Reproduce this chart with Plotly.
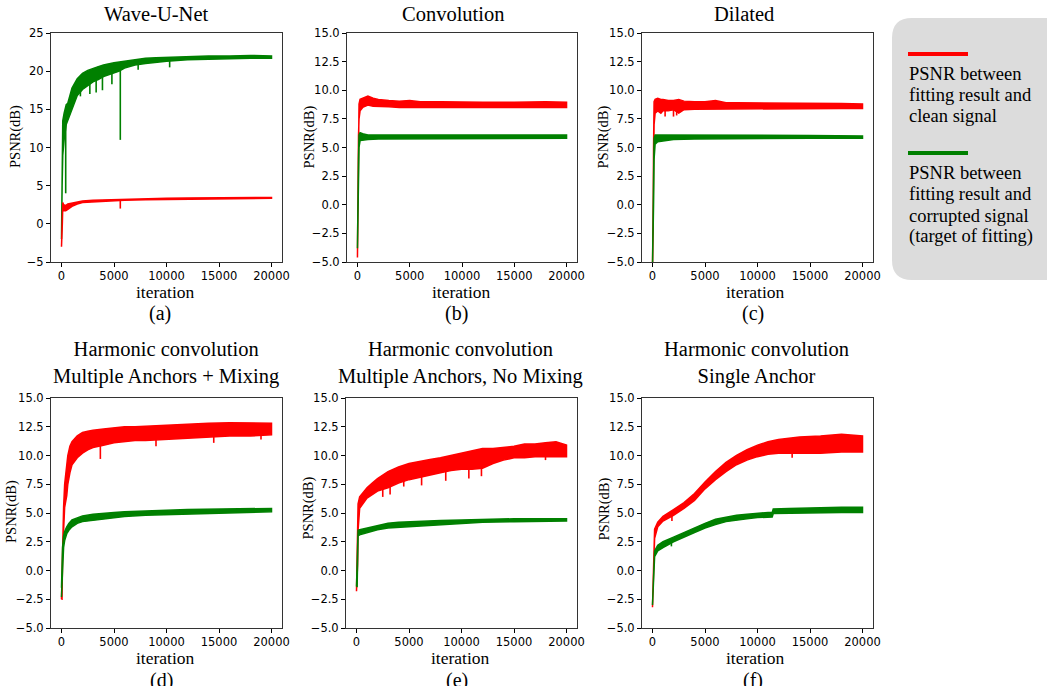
import plotly.graph_objects as go

W, H = 1047, 686
RED = "#ff0000"
GREEN = "#008000"

# ---------------- data ----------------
X_TICKS = [0, 5000, 10000, 15000, 20000]
Y_TICKS_A = [-5, 0, 5, 10, 15, 20, 25]
Y_TICKS = [-5.0, -2.5, 0.0, 2.5, 5.0, 7.5, 10.0, 12.5, 15.0]

PANEL_TITLES = ["Wave-U-Net", "Convolution", "Dilated",
                "Harmonic convolution<br>Multiple Anchors + Mixing",
                "Harmonic convolution<br>Multiple Anchors, No Mixing",
                "Harmonic convolution<br>Single Anchor"]
PANEL_LETTERS = ["(a)", "(b)", "(c)", "(d)", "(e)", "(f)"]
LEGEND_RED = ["PSNR between", "fitting result and", "clean signal"]
LEGEND_GREEN = ["PSNR between", "fitting result and", "corrupted signal", "(target of fitting)"]

# (a) Wave-U-Net
A_G_X = [0, 60, 120, 250, 450, 600, 800, 1000, 1500, 2000, 2500, 3000, 3500, 4000, 4500, 5000, 5500, 6000, 7000, 8000, 9000, 10000, 12000, 14000, 16000, 18000, 20000]
A_G_HI = [-2, 10.5, 13.5, 14.5, 15.6, 15.8, 17.0, 17.8, 19.0, 19.7, 20.1, 20.4, 20.6, 20.8, 21.0, 21.1, 21.2, 21.3, 21.5, 21.7, 21.75, 21.8, 21.9, 22.0, 22.0, 22.05, 22.0]
A_G_LO = [-2, 5.0, 9.0, 11.0, 13.0, 13.8, 14.3, 15.0, 16.8, 17.6, 18.1, 18.6, 18.9, 19.3, 19.6, 19.8, 20.0, 20.4, 20.8, 21.0, 21.2, 21.3, 21.5, 21.6, 21.65, 21.7, 21.7]
A_G_DIP_X = [400, 1800, 2700, 3300, 3900, 4800, 5600, 7300, 10300]
A_G_DIP_TOP = [13, 18.5, 19, 19.5, 19.8, 20, 21, 21, 21.5]
A_G_DIP_BOT = [4, 16.7, 17, 17.2, 17.5, 18.3, 11, 20.2, 20.5]
A_R_X = [0, 40, 80, 120, 200, 400, 600, 1000, 1500, 2000, 3000, 4000, 5000, 6000, 8000, 10000, 12000, 15000, 20000]
A_R_HI = [-3, -1, 1.5, 2.8, 2.5, 2.4, 2.6, 2.7, 2.9, 3.0, 3.1, 3.15, 3.2, 3.25, 3.3, 3.35, 3.4, 3.45, 3.45]
A_R_LO = [-3, -2.5, 0, 2.2, 1.7, 1.7, 1.9, 2.3, 2.6, 2.8, 2.9, 2.95, 3.0, 3.1, 3.15, 3.2, 3.25, 3.3, 3.35]
A_R_DIP_X = [5600]
A_R_DIP_TOP = [3.1]
A_R_DIP_BOT = [2.0]

# (b) Convolution
B_R_X = [0, 30, 60, 100, 150, 250, 500, 1000, 1500, 2000, 3000, 4000, 5000, 6000, 8000, 10000, 12000, 15000, 18000, 20000]
B_R_HI = [-4.6, -2, 3.5, 8.0, 8.8, 9.2, 9.3, 9.5, 9.3, 9.2, 9.1, 9.05, 9.1, 9.0, 9.0, 8.95, 8.95, 8.95, 9.0, 8.95]
B_R_LO = [-4.6, -4, -2, 6.0, 7.5, 8.2, 8.5, 8.7, 8.6, 8.6, 8.55, 8.5, 8.45, 8.5, 8.5, 8.45, 8.45, 8.5, 8.5, 8.5]
B_G_X = [0, 30, 60, 100, 150, 250, 500, 1000, 2000, 4000, 6000, 10000, 15000, 20000]
B_G_HI = [-3.8, 1.0, 1.0, 4.0, 6.1, 6.3, 6.2, 6.1, 6.1, 6.1, 6.1, 6.1, 6.1, 6.1]
B_G_LO = [-3.8, -3.8, 0.3, 0.3, 5.0, 5.6, 5.6, 5.7, 5.75, 5.8, 5.8, 5.8, 5.8, 5.8]

# (c) Dilated
C_R_X = [0, 60, 100, 150, 250, 500, 800, 1000, 1500, 2000, 2500, 3000, 4000, 5000, 6000, 7000, 8000, 10000, 12000, 15000, 18000, 20000]
C_R_HI = [-5.5, -2, 5.0, 9.0, 9.2, 9.3, 9.2, 9.2, 9.1, 9.1, 9.2, 9.05, 9.0, 9.0, 9.1, 8.9, 8.9, 8.9, 8.9, 8.85, 8.85, 8.8]
C_R_LO = [-5.5, -5.5, 3.0, 7.0, 8.0, 8.2, 8.0, 8.2, 8.2, 8.3, 8.0, 8.3, 8.35, 8.4, 8.4, 8.4, 8.35, 8.35, 8.4, 8.4, 8.4, 8.4]
C_R_DIP_X = [1200, 2000, 2300]
C_R_DIP_TOP = [8.3, 8.3, 8.3]
C_R_DIP_BOT = [7.7, 7.7, 7.8]
C_G_X = [0, 30, 60, 100, 150, 250, 500, 1000, 2000, 4000, 6000, 10000, 15000, 20000]
C_G_HI = [-5.5, -1.5, -1.5, 3.5, 5.8, 6.1, 6.1, 6.1, 6.05, 6.05, 6.1, 6.05, 6.05, 6.0]
C_G_LO = [-5.5, -5.5, -5.0, 0.0, 4.0, 5.3, 5.5, 5.6, 5.7, 5.75, 5.75, 5.8, 5.8, 5.8]

# (d) Multiple Anchors + Mixing
D_R_X = [0, 50, 100, 200, 300, 400, 500, 600, 800, 1000, 1500, 2000, 2500, 3000, 4000, 5000, 6000, 7000, 8000, 9000, 10000, 12000, 14000, 16000, 18000, 20000]
D_R_HI = [-2.5, 0, 3.0, 5.5, 7.5, 8.5, 9.5, 10.0, 10.8, 11.2, 11.7, 12.0, 12.1, 12.2, 12.3, 12.4, 12.5, 12.5, 12.55, 12.6, 12.65, 12.7, 12.8, 12.85, 12.85, 12.8]
D_R_LO = [-2.5, -2.5, 1.0, 3.5, 5.5, 6.0, 6.5, 7.5, 8.5, 9.2, 9.8, 10.2, 10.5, 10.7, 10.9, 11.1, 11.2, 11.3, 11.3, 11.3, 11.4, 11.5, 11.6, 11.7, 11.7, 11.8]
D_R_DIP_X = [1300, 3700, 9000, 14500, 19000]
D_R_DIP_TOP = [11.5, 11.5, 11.5, 12, 12]
D_R_DIP_BOT = [9.7, 9.7, 10.8, 11.1, 11.4]
D_G_X = [0, 50, 100, 200, 300, 500, 700, 1000, 1500, 2000, 3000, 4000, 5000, 6000, 8000, 10000, 12000, 15000, 18000, 20000]
D_G_HI = [-1.5, 0.5, 2.0, 3.0, 3.4, 3.8, 4.1, 4.4, 4.6, 4.75, 4.9, 5.0, 5.05, 5.1, 5.2, 5.25, 5.3, 5.35, 5.4, 5.4]
D_G_LO = [-2.3, -2.0, 0.0, 2.0, 2.6, 3.2, 3.5, 3.8, 4.1, 4.25, 4.4, 4.5, 4.6, 4.7, 4.8, 4.85, 4.9, 5.0, 5.05, 5.1]

# (e) Multiple Anchors, No Mixing
E_R_X = [0, 60, 100, 150, 300, 1000, 1500, 2000, 3000, 4000, 5000, 6000, 7000, 8000, 9000, 10000, 11000, 12000, 13000, 14000, 15000, 16000, 17000, 18000, 19000, 20000]
E_R_HI = [-1.8, 1.5, 3.5, 5.8, 6.4, 7.2, 7.6, 8.0, 8.6, 9.0, 9.3, 9.5, 9.65, 9.8, 10.0, 10.2, 10.4, 10.6, 10.6, 10.7, 10.8, 11.0, 11.0, 11.1, 11.2, 10.9]
E_R_LO = [-1.8, -1.8, 0.5, 3.5, 5.4, 6.3, 6.6, 6.9, 7.2, 7.6, 7.9, 8.1, 8.3, 8.5, 8.7, 8.8, 8.8, 8.9, 9.3, 9.6, 9.8, 9.8, 9.9, 9.9, 9.9, 9.9]
E_R_DIP_X = [2500, 3200, 4500, 6200, 8500, 10700, 11900, 18000]
E_R_DIP_TOP = [7.5, 7.8, 8.2, 8.5, 9.0, 9.2, 9.5, 10.2]
E_R_DIP_BOT = [6.4, 6.6, 7.3, 7.4, 7.8, 8.0, 8.2, 9.6]
E_G_X = [0, 60, 100, 150, 300, 1000, 2000, 3000, 4000, 6000, 8000, 10000, 12000, 15000, 18000, 20000]
E_G_HI = [-1.4, 0.5, 2.0, 3.5, 3.55, 3.7, 3.95, 4.1, 4.2, 4.3, 4.35, 4.4, 4.45, 4.5, 4.5, 4.5]
E_G_LO = [-1.4, -1.4, 0.0, 3.0, 3.1, 3.3, 3.55, 3.7, 3.8, 3.9, 4.0, 4.1, 4.2, 4.25, 4.3, 4.3]

# (f) Single Anchor
F_R_X = [0, 60, 120, 200, 500, 1000, 2000, 3000, 4000, 5000, 6000, 7000, 8000, 9000, 10000, 11000, 12000, 14000, 16000, 18000, 20000]
F_R_HI = [-3.2, -1.0, 2.0, 3.6, 4.2, 4.7, 5.3, 5.9, 6.7, 7.7, 8.6, 9.4, 10.0, 10.5, 10.9, 11.2, 11.4, 11.6, 11.7, 11.85, 11.7]
F_R_LO = [-3.2, -3.2, 0.0, 2.8, 3.8, 4.3, 4.8, 5.4, 6.1, 7.1, 7.9, 8.6, 9.2, 9.6, 9.9, 10.1, 10.2, 10.2, 10.2, 10.3, 10.3]
F_R_DIP_X = [1850, 13300]
F_R_DIP_TOP = [4.9, 10.5]
F_R_DIP_BOT = [4.3, 9.8]
F_G_X = [0, 60, 120, 200, 500, 1000, 2000, 3000, 4000, 5000, 6000, 7000, 8000, 9000, 10000, 11000, 11400, 11500, 13000, 15000, 18000, 20000]
F_G_HI = [-3.0, -1.0, 1.0, 1.7, 2.2, 2.5, 2.9, 3.3, 3.75, 4.1, 4.45, 4.65, 4.8, 4.9, 5.0, 5.05, 5.05, 5.35, 5.4, 5.45, 5.5, 5.5]
F_G_LO = [-3.0, -3.0, -1.0, 1.2, 1.7, 2.0, 2.5, 2.9, 3.3, 3.7, 4.0, 4.25, 4.4, 4.5, 4.6, 4.65, 4.65, 4.95, 5.0, 5.0, 5.05, 5.05]
F_G_DIP_X = [1800]
F_G_DIP_TOP = [2.6]
F_G_DIP_BOT = [2.1]

# ---------------- layout helpers ----------------
def px(p):
    return p / W

def py(p):
    return 1 - p / H

# axes boxes in pixels: (left, right, top, bottom)
BOXES = [(51, 282, 33, 262), (347, 577, 33, 262), (642, 873, 33, 262),
         (51, 282, 398, 628), (346, 577, 398, 628), (642, 873, 398, 628)]

fig = go.Figure()

def band(i, xs, hi, lo, color):
    ax = "" if i == 0 else str(i + 1)
    fig.add_trace(go.Scatter(
        x=list(xs) + list(xs)[::-1], y=list(hi) + list(lo)[::-1],
        fill="toself", fillcolor=color, mode="lines",
        line=dict(color=color, width=1.5), hoverinfo="skip", showlegend=False,
        xaxis="x" + ax, yaxis="y" + ax))

def dips(i, xs, top, bot, color):
    ax = "" if i == 0 else str(i + 1)
    X, Y = [], []
    for a, t, b in zip(xs, top, bot):
        X += [a, a, None]
        Y += [t, b, None]
    fig.add_trace(go.Scatter(x=X, y=Y, mode="lines", line=dict(color=color, width=1.6),
                             hoverinfo="skip", showlegend=False,
                             xaxis="x" + ax, yaxis="y" + ax))

band(0, A_G_X, A_G_HI, A_G_LO, GREEN)
dips(0, A_G_DIP_X, A_G_DIP_TOP, A_G_DIP_BOT, GREEN)
band(0, A_R_X, A_R_HI, A_R_LO, RED)
dips(0, A_R_DIP_X, A_R_DIP_TOP, A_R_DIP_BOT, RED)

band(1, B_R_X, B_R_HI, B_R_LO, RED)
band(1, B_G_X, B_G_HI, B_G_LO, GREEN)

band(2, C_R_X, C_R_HI, C_R_LO, RED)
dips(2, C_R_DIP_X, C_R_DIP_TOP, C_R_DIP_BOT, RED)
band(2, C_G_X, C_G_HI, C_G_LO, GREEN)

band(3, D_R_X, D_R_HI, D_R_LO, RED)
dips(3, D_R_DIP_X, D_R_DIP_TOP, D_R_DIP_BOT, RED)
band(3, D_G_X, D_G_HI, D_G_LO, GREEN)

band(4, E_R_X, E_R_HI, E_R_LO, RED)
dips(4, E_R_DIP_X, E_R_DIP_TOP, E_R_DIP_BOT, RED)
band(4, E_G_X, E_G_HI, E_G_LO, GREEN)

band(5, F_R_X, F_R_HI, F_R_LO, RED)
dips(5, F_R_DIP_X, F_R_DIP_TOP, F_R_DIP_BOT, RED)
band(5, F_G_X, F_G_HI, F_G_LO, GREEN)
dips(5, F_G_DIP_X, F_G_DIP_TOP, F_G_DIP_BOT, GREEN)

TICKFONT = dict(family="DejaVu Sans", size=11.5, color="black")
layout = dict(width=W, height=H, margin=dict(l=0, r=0, t=0, b=0, autoexpand=False),
              paper_bgcolor="white", plot_bgcolor="white")
for i, (l, r, t, b) in enumerate(BOXES):
    k = "" if i == 0 else str(i + 1)
    layout["xaxis" + k] = dict(
        domain=[px(l), px(r)], range=[-1000, 21000], anchor="y" + k,
        tickvals=X_TICKS, ticktext=[str(v) for v in X_TICKS],
        ticks="outside", ticklen=4, tickcolor="black", tickfont=TICKFONT,
        ticklabelstandoff=-1,
        showgrid=False, zeroline=False, showline=True, mirror=True,
        linecolor="#333", linewidth=1, fixedrange=True, automargin=False)
    yt = Y_TICKS_A if i == 0 else Y_TICKS
    ytext = [(str(v) if i == 0 else f"{v:.1f}").replace("-", "\u2212") for v in yt]
    layout["yaxis" + k] = dict(
        domain=[py(b), py(t)], range=[-5, 25] if i == 0 else [-5, 15], anchor="x" + k,
        tickvals=yt, ticktext=ytext,
        ticks="outside", ticklen=4, tickcolor="black", tickfont=TICKFONT,
        showgrid=False, zeroline=False, showline=True, mirror=True,
        linecolor="#333", linewidth=1, fixedrange=True, automargin=False)

SERIF = "Liberation Serif"
ann = []
def text(x, y, s, size, angle=0, xanchor="center"):
    ann.append(dict(x=px(x), y=py(y), xref="paper", yref="paper", text=s,
                    showarrow=False, textangle=angle, xanchor=xanchor, yanchor="middle",
                    font=dict(family=SERIF, size=size, color="black")))

# titles
TITLE_POS = [(156, 14), (453.5, 14), (744, 14), (166, 362.5), (460.5, 362.5), (756, 362.5)]
for (x, y), s in zip(TITLE_POS, PANEL_TITLES):
    text(x, y, s, 20.5)
# x labels
XL_POS = [(165, 292), (461, 292), (755.5, 292), (165, 658), (460, 658), (755.5, 658)]
for x, y in XL_POS:
    text(x, y, "iteration", 17.5)
# panel letters
LET_POS = [(160, 313), (456.5, 313), (753, 313), (161, 680), (457, 680), (753, 680)]
for (x, y), s in zip(LET_POS, PANEL_LETTERS):
    text(x, y, s, 20)
# y labels
YL_POS = [(16, 137), (309, 137.5), (603.5, 137), (11, 512), (307.5, 508), (604, 509.5)]
for x, y in YL_POS:
    text(x, y, "PSNR(dB)", 14.5, angle=-90)

# legend texts
for j, s in enumerate(LEGEND_RED):
    text(907, 74 + 21 * j, s, 18.5, xanchor="left")
for j, s in enumerate(LEGEND_GREEN):
    text(907, 173 + 21.3 * j, s, 18.5, xanchor="left")

layout["annotations"] = ann

# legend box with rounded corners
x0, x1, y0, y1, rr = px(892), px(1070), py(18), py(280), 20
rx, ry = rr / W, rr / H
path = (f"M {x0+rx},{y0} L {x1},{y0} L {x1},{y1} L {x0+rx},{y1} "
        f"Q {x0},{y1} {x0},{y1+ry} L {x0},{y0-ry} Q {x0},{y0} {x0+rx},{y0} Z")
layout["shapes"] = [
    dict(type="path", path=path, xref="paper", yref="paper",
         fillcolor="#dcdcdc", line=dict(width=0), layer="below"),
    dict(type="line", xref="paper", yref="paper", x0=px(908), x1=px(968), y0=py(54), y1=py(54),
         line=dict(color=RED, width=4)),
    dict(type="line", xref="paper", yref="paper", x0=px(908), x1=px(968), y0=py(153), y1=py(153),
         line=dict(color=GREEN, width=4)),
]

fig.update_layout(**layout)
fig.write_html("out.html", config={"displayModeBar": False},
               post_script="document.body.style.margin='0';document.body.style.overflow='hidden';")
